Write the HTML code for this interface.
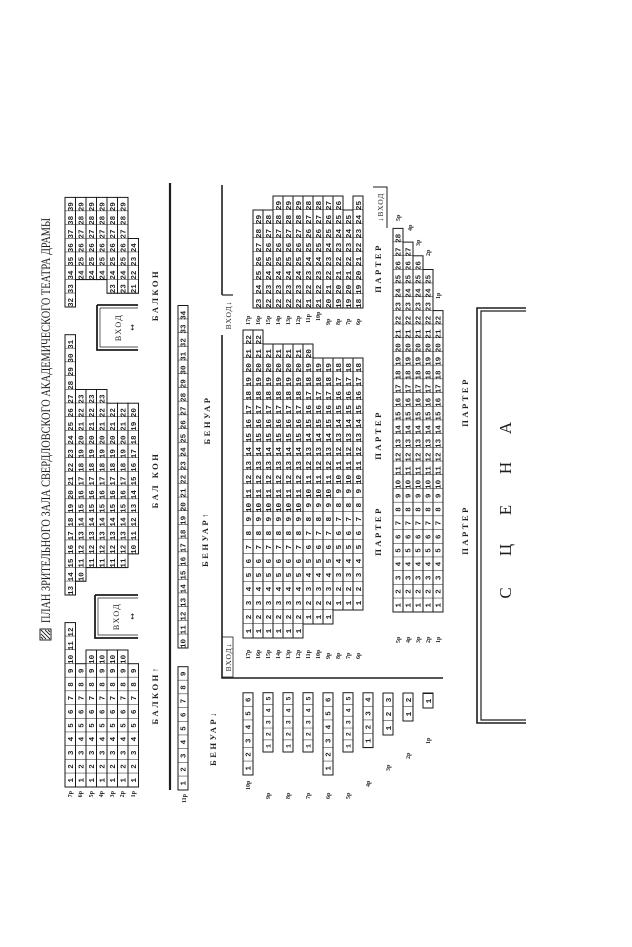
<!DOCTYPE html>
<html><head><meta charset="utf-8"><style>
html,body{margin:0;padding:0;background:#fff;}
svg{display:block}
text{white-space:pre;fill:#1e1e1e}
.n{font-family:"Liberation Mono",monospace;font-weight:bold}
.na{font-size:7.6px}
.nb{font-size:7.78px}
.nc{font-size:6.6px}
.lb{font-family:"Liberation Serif",serif;font-size:6px;font-weight:bold}
.hd{font-family:"Liberation Serif",serif;font-size:8.5px;font-weight:bold;letter-spacing:2.5px}
.r{fill:none;stroke:#1a1a1a;stroke-width:1}
</style></head><body>
<svg width="632" height="947" viewBox="0 0 632 947" xmlns="http://www.w3.org/2000/svg">
<defs>
<pattern id="a" width="13.7" height="20" patternUnits="userSpaceOnUse"><path d="M0 0V20" stroke="#1a1a1a" stroke-width="1"/></pattern>
<pattern id="b" width="14" height="20" patternUnits="userSpaceOnUse"><path d="M0 0V20" stroke="#1a1a1a" stroke-width="1"/></pattern>
<pattern id="c" width="11.86" height="20" patternUnits="userSpaceOnUse"><path d="M0 0V20" stroke="#1a1a1a" stroke-width="1"/></pattern>
</defs>
<g transform="translate(0 947) rotate(-90)">

<rect x="307" y="40" width="11" height="11" fill="#fff" stroke="#222" stroke-width="1"/>
<path d="M308 50L317 41M308 46L313 41M312 50L317 45M308 43L310 41M315 50L317 48" stroke="#222" stroke-width="0.9"/>
<text x="324" y="50" font-family="Liberation Serif,serif" font-size="13" textLength="405" lengthAdjust="spacingAndGlyphs">ПЛАН ЗРИТЕЛЬНОГО ЗАЛА СВЕРДЛОВСКОГО АКАДЕМИЧЕСКОГО ТЕАТРА ДРАМЫ</text>

<g transform="translate(160,65)"><rect width="164.4" height="10.5" fill="url(#a)"/><rect class="r" width="164.4" height="10.5"/><text class="n na" y="8"> 1  2  3  4  5  6  7  8  9 10 11 12 </text></g>
<g transform="translate(160,75.5)"><rect width="123.3" height="10.5" fill="url(#a)"/><rect class="r" width="123.3" height="10.5"/><text class="n na" y="8"> 1  2  3  4  5  6  7  8  9 </text></g>
<g transform="translate(160,86)"><rect width="137" height="10.5" fill="url(#a)"/><rect class="r" width="137" height="10.5"/><text class="n na" y="8"> 1  2  3  4  5  6  7  8  9 10 </text></g>
<g transform="translate(160,96.5)"><rect width="137" height="10.5" fill="url(#a)"/><rect class="r" width="137" height="10.5"/><text class="n na" y="8"> 1  2  3  4  5  6  7  8  9 10 </text></g>
<g transform="translate(160,107)"><rect width="137" height="10.5" fill="url(#a)"/><rect class="r" width="137" height="10.5"/><text class="n na" y="8"> 1  2  3  4  5  6  7  8  9 10 </text></g>
<g transform="translate(160,117.5)"><rect width="137" height="10.5" fill="url(#a)"/><rect class="r" width="137" height="10.5"/><text class="n na" y="8"> 1  2  3  4  5  6  7  8  9 10 </text></g>
<g transform="translate(160,128)"><rect width="123.3" height="10.5" fill="url(#a)"/><rect class="r" width="123.3" height="10.5"/><text class="n na" y="8"> 1  2  3  4  5  6  7  8  9 </text></g>
<text class="lb" x="156" y="72" text-anchor="end">7р</text>
<text class="lb" x="156" y="82" text-anchor="end">6р</text>
<text class="lb" x="156" y="93" text-anchor="end">5р</text>
<text class="lb" x="156" y="103" text-anchor="end">4р</text>
<text class="lb" x="156" y="114" text-anchor="end">3р</text>
<text class="lb" x="156" y="124" text-anchor="end">2р</text>
<text class="lb" x="156" y="135" text-anchor="end">1р</text>

<g transform="translate(352,65)"><rect width="260.3" height="10.5" fill="url(#a)"/><rect class="r" width="260.3" height="10.5"/><text class="n na" y="8">13 14 15 16 17 18 19 20 21 22 23 24 25 26 27 28 29 30 31 </text></g>
<g transform="translate(365.7,75.5)"><rect width="191.8" height="10.5" fill="url(#a)"/><rect class="r" width="191.8" height="10.5"/><text class="n na" y="8">10 11 12 13 14 15 16 17 18 19 20 21 22 23 </text></g>
<g transform="translate(379.4,86)"><rect width="178.1" height="10.5" fill="url(#a)"/><rect class="r" width="178.1" height="10.5"/><text class="n na" y="8">11 12 13 14 15 16 17 18 19 20 21 22 23 </text></g>
<g transform="translate(379.4,96.5)"><rect width="178.1" height="10.5" fill="url(#a)"/><rect class="r" width="178.1" height="10.5"/><text class="n na" y="8">11 12 13 14 15 16 17 18 19 20 21 22 23 </text></g>
<g transform="translate(379.4,107)"><rect width="164.4" height="10.5" fill="url(#a)"/><rect class="r" width="164.4" height="10.5"/><text class="n na" y="8">11 12 13 14 15 16 17 18 19 20 21 22 </text></g>
<g transform="translate(379.4,117.5)"><rect width="164.4" height="10.5" fill="url(#a)"/><rect class="r" width="164.4" height="10.5"/><text class="n na" y="8">11 12 13 14 15 16 17 18 19 20 21 22 </text></g>
<g transform="translate(393.1,128)"><rect width="150.7" height="10.5" fill="url(#a)"/><rect class="r" width="150.7" height="10.5"/><text class="n na" y="8">10 11 12 13 14 15 16 17 18 19 20 </text></g>

<g transform="translate(640,65)"><rect width="109.6" height="10.5" fill="url(#a)"/><rect class="r" width="109.6" height="10.5"/><text class="n na" y="8">32 33 34 35 36 37 38 39 </text></g>
<g transform="translate(667.4,75.5)"><rect width="82.2" height="10.5" fill="url(#a)"/><rect class="r" width="82.2" height="10.5"/><text class="n na" y="8">24 25 26 27 28 29 </text></g>
<g transform="translate(667.4,86)"><rect width="82.2" height="10.5" fill="url(#a)"/><rect class="r" width="82.2" height="10.5"/><text class="n na" y="8">24 25 26 27 28 29 </text></g>
<g transform="translate(667.4,96.5)"><rect width="82.2" height="10.5" fill="url(#a)"/><rect class="r" width="82.2" height="10.5"/><text class="n na" y="8">24 25 26 27 28 29 </text></g>
<g transform="translate(653.7,107)"><rect width="95.9" height="10.5" fill="url(#a)"/><rect class="r" width="95.9" height="10.5"/><text class="n na" y="8">23 24 25 26 27 28 29 </text></g>
<g transform="translate(653.7,117.5)"><rect width="95.9" height="10.5" fill="url(#a)"/><rect class="r" width="95.9" height="10.5"/><text class="n na" y="8">23 24 25 26 27 28 29 </text></g>
<g transform="translate(653.7,128)"><rect width="54.8" height="10.5" fill="url(#a)"/><rect class="r" width="54.8" height="10.5"/><text class="n na" y="8">21 22 23 24 </text></g>

<path d="M352 95H309V138M352 95V138" fill="none" stroke="#1e1e1e" stroke-width="1.8"/>
<path d="M349 98H312V138M349 98V138" fill="none" stroke="#1e1e1e" stroke-width="0.7"/>
<text x="330.5" y="119" text-anchor="middle" font-family="Liberation Serif,serif" font-size="8" letter-spacing="1.5">ВХОД</text>
<text x="330.5" y="135" text-anchor="middle" font-family="DejaVu Sans,sans-serif" font-size="8">↔</text>
<path d="M642 97H597V138M642 97V138" fill="none" stroke="#1e1e1e" stroke-width="1.8"/>
<path d="M639 100H600V138M639 100V138" fill="none" stroke="#1e1e1e" stroke-width="0.7"/>
<text x="619.5" y="121" text-anchor="middle" font-family="Liberation Serif,serif" font-size="8" letter-spacing="1.5">ВХОД</text>
<text x="619.5" y="135" text-anchor="middle" font-family="DejaVu Sans,sans-serif" font-size="8">↔</text>

<text class="hd" x="252" y="158" text-anchor="middle">БАЛКОН↑</text>
<text class="hd" x="467" y="158" text-anchor="middle" letter-spacing="4">БАЛ КОН</text>
<text class="hd" x="652" y="158" text-anchor="middle">БАЛКОН</text>

<path d="M157 170H764" stroke="#1e1e1e" stroke-width="2.2"/>

<g transform="translate(157,178)"><rect width="123.3" height="10" fill="url(#a)"/><rect class="r" width="123.3" height="10"/><text class="n na" y="7.7"> 1  2  3  4  5  6  7  8  9 </text></g>
<g transform="translate(299,178)"><rect width="342.5" height="10" fill="url(#a)"/><rect class="r" width="342.5" height="10"/><text class="n na" y="7.7">10 11 12 13 14 15 16 17 18 19 20 21 22 23 24 25 26 27 28 29 30 31 32 33 34 </text></g>
<text class="lb" x="153" y="186" text-anchor="end">11р</text>
<text class="hd" x="408" y="208" text-anchor="middle">БЕНУАР↑</text>
<text class="hd" x="527" y="210" text-anchor="middle">БЕНУАР</text>
<text class="hd" x="209" y="216" text-anchor="middle">БЕНУАР↓</text>

<path d="M269 443V222H612" fill="none" stroke="#1e1e1e" stroke-width="1.6"/>
<path d="M652 222H762" fill="none" stroke="#1e1e1e" stroke-width="1.6"/>
<path d="M652 222V233" stroke="#1e1e1e" stroke-width="1.2"/>
<text x="632" y="231" text-anchor="middle" font-family="Liberation Serif,serif" font-size="7.5" letter-spacing="1">ВХОД↓</text>
<rect x="270" y="222" width="40" height="11" fill="none" stroke="#1e1e1e" stroke-width="0.8"/>
<text x="290" y="231" text-anchor="middle" font-family="Liberation Serif,serif" font-size="7.5" letter-spacing="1">ВХОД↓</text>
<path d="M719 387H760V373" fill="none" stroke="#1e1e1e" stroke-width="1"/>
<text x="740" y="383" text-anchor="middle" font-family="Liberation Serif,serif" font-size="7.5" letter-spacing="1">↓ВХОД</text>

<g transform="translate(309,243)"><rect width="308" height="10" fill="url(#b)"/><rect class="r" width="308" height="10"/><text class="n nb" y="7.8"> 1  2  3  4  5  6  7  8  9 10 11 12 13 14 15 16 17 18 19 20 21 22 </text></g>
<g transform="translate(309,253)"><rect width="308" height="10" fill="url(#b)"/><rect class="r" width="308" height="10"/><text class="n nb" y="7.8"> 1  2  3  4  5  6  7  8  9 10 11 12 13 14 15 16 17 18 19 20 21 22 </text></g>
<g transform="translate(309,263)"><rect width="294" height="10" fill="url(#b)"/><rect class="r" width="294" height="10"/><text class="n nb" y="7.8"> 1  2  3  4  5  6  7  8  9 10 11 12 13 14 15 16 17 18 19 20 21 </text></g>
<g transform="translate(309,273)"><rect width="294" height="10" fill="url(#b)"/><rect class="r" width="294" height="10"/><text class="n nb" y="7.8"> 1  2  3  4  5  6  7  8  9 10 11 12 13 14 15 16 17 18 19 20 21 </text></g>
<g transform="translate(309,283)"><rect width="294" height="10" fill="url(#b)"/><rect class="r" width="294" height="10"/><text class="n nb" y="7.8"> 1  2  3  4  5  6  7  8  9 10 11 12 13 14 15 16 17 18 19 20 21 </text></g>
<g transform="translate(309,293)"><rect width="294" height="10" fill="url(#b)"/><rect class="r" width="294" height="10"/><text class="n nb" y="7.8"> 1  2  3  4  5  6  7  8  9 10 11 12 13 14 15 16 17 18 19 20 21 </text></g>
<g transform="translate(323,303)"><rect width="280" height="10" fill="url(#b)"/><rect class="r" width="280" height="10"/><text class="n nb" y="7.8"> 1  2  3  4  5  6  7  8  9 10 11 12 13 14 15 16 17 18 19 20 </text></g>
<g transform="translate(323,313)"><rect width="266" height="10" fill="url(#b)"/><rect class="r" width="266" height="10"/><text class="n nb" y="7.8"> 1  2  3  4  5  6  7  8  9 10 11 12 13 14 15 16 17 18 19 </text></g>
<g transform="translate(323,323)"><rect width="266" height="10" fill="url(#b)"/><rect class="r" width="266" height="10"/><text class="n nb" y="7.8"> 1  2  3  4  5  6  7  8  9 10 11 12 13 14 15 16 17 18 19 </text></g>
<g transform="translate(337,333)"><rect width="252" height="10" fill="url(#b)"/><rect class="r" width="252" height="10"/><text class="n nb" y="7.8"> 1  2  3  4  5  6  7  8  9 10 11 12 13 14 15 16 17 18 </text></g>
<g transform="translate(337,343)"><rect width="252" height="10" fill="url(#b)"/><rect class="r" width="252" height="10"/><text class="n nb" y="7.8"> 1  2  3  4  5  6  7  8  9 10 11 12 13 14 15 16 17 18 </text></g>
<g transform="translate(337,353)"><rect width="252" height="10" fill="url(#b)"/><rect class="r" width="252" height="10"/><text class="n nb" y="7.8"> 1  2  3  4  5  6  7  8  9 10 11 12 13 14 15 16 17 18 </text></g>
<text class="lb" x="288" y="250">17р</text><text class="lb" x="288" y="260">16р</text><text class="lb" x="288" y="270">15р</text><text class="lb" x="288" y="280">14р</text><text class="lb" x="288" y="290">13р</text><text class="lb" x="288" y="300">12р</text><text class="lb" x="288" y="310">11р</text><text class="lb" x="288" y="320">10р</text><text class="lb" x="288" y="330">9р</text><text class="lb" x="288" y="340">8р</text><text class="lb" x="288" y="350">7р</text><text class="lb" x="288" y="360">6р</text>
<text class="lb" x="622" y="250">17р</text><text class="lb" x="622" y="260">16р</text><text class="lb" x="622" y="270">15р</text><text class="lb" x="622" y="280">14р</text><text class="lb" x="622" y="290">13р</text><text class="lb" x="622" y="300">12р</text><text class="lb" x="624" y="310">11р</text><text class="lb" x="626" y="320">10р</text><text class="lb" x="622" y="330">9р</text><text class="lb" x="622" y="340">8р</text><text class="lb" x="622" y="350">7р</text><text class="lb" x="622" y="360">6р</text>

<g transform="translate(639,253)"><rect width="98" height="10" fill="url(#b)"/><rect class="r" width="98" height="10"/><text class="n nb" y="7.8">23 24 25 26 27 28 29 </text></g>
<g transform="translate(639,263)"><rect width="98" height="10" fill="url(#b)"/><rect class="r" width="98" height="10"/><text class="n nb" y="7.8">22 23 24 25 26 27 28 </text></g>
<g transform="translate(639,273)"><rect width="112" height="10" fill="url(#b)"/><rect class="r" width="112" height="10"/><text class="n nb" y="7.8">22 23 24 25 26 27 28 29 </text></g>
<g transform="translate(639,283)"><rect width="112" height="10" fill="url(#b)"/><rect class="r" width="112" height="10"/><text class="n nb" y="7.8">22 23 24 25 26 27 28 29 </text></g>
<g transform="translate(639,293)"><rect width="112" height="10" fill="url(#b)"/><rect class="r" width="112" height="10"/><text class="n nb" y="7.8">22 23 24 25 26 27 28 29 </text></g>
<g transform="translate(639,303)"><rect width="112" height="10" fill="url(#b)"/><rect class="r" width="112" height="10"/><text class="n nb" y="7.8">21 22 23 24 25 26 27 28 </text></g>
<g transform="translate(639,313)"><rect width="112" height="10" fill="url(#b)"/><rect class="r" width="112" height="10"/><text class="n nb" y="7.8">21 22 23 24 25 26 27 28 </text></g>
<g transform="translate(639,323)"><rect width="112" height="10" fill="url(#b)"/><rect class="r" width="112" height="10"/><text class="n nb" y="7.8">20 21 22 23 24 25 26 27 </text></g>
<g transform="translate(639,333)"><rect width="112" height="10" fill="url(#b)"/><rect class="r" width="112" height="10"/><text class="n nb" y="7.8">19 20 21 22 23 24 25 26 </text></g>
<g transform="translate(639,343)"><rect width="98" height="10" fill="url(#b)"/><rect class="r" width="98" height="10"/><text class="n nb" y="7.8">19 20 21 22 23 24 25 </text></g>
<g transform="translate(639,353)"><rect width="112" height="10" fill="url(#b)"/><rect class="r" width="112" height="10"/><text class="n nb" y="7.8">18 19 20 21 22 23 24 25 </text></g>

<g transform="translate(335,393)"><rect width="383.6" height="10" fill="url(#a)"/><rect class="r" width="383.6" height="10"/><text class="n na" y="7.7"> 1  2  3  4  5  6  7  8  9 10 11 12 13 14 15 16 17 18 19 20 21 22 23 24 25 26 27 28 </text></g>
<g transform="translate(335,403)"><rect width="369.9" height="10" fill="url(#a)"/><rect class="r" width="369.9" height="10"/><text class="n na" y="7.7"> 1  2  3  4  5  6  7  8  9 10 11 12 13 14 15 16 17 18 19 20 21 22 23 24 25 26 27 </text></g>
<g transform="translate(335,413)"><rect width="356.2" height="10" fill="url(#a)"/><rect class="r" width="356.2" height="10"/><text class="n na" y="7.7"> 1  2  3  4  5  6  7  8  9 10 11 12 13 14 15 16 17 18 19 20 21 22 23 24 25 26 </text></g>
<g transform="translate(335,423)"><rect width="342.5" height="10" fill="url(#a)"/><rect class="r" width="342.5" height="10"/><text class="n na" y="7.7"> 1  2  3  4  5  6  7  8  9 10 11 12 13 14 15 16 17 18 19 20 21 22 23 24 25 </text></g>
<g transform="translate(335,433)"><rect width="301.4" height="10" fill="url(#a)"/><rect class="r" width="301.4" height="10"/><text class="n na" y="7.7"> 1  2  3  4  5  6  7  8  9 10 11 12 13 14 15 16 17 18 19 20 21 22 </text></g>
<text class="lb" x="304" y="400">5р</text><text class="lb" x="304" y="410">4р</text><text class="lb" x="304" y="420">3р</text><text class="lb" x="304" y="430">2р</text><text class="lb" x="304" y="440">1р</text>
<text class="lb" x="726" y="400">5р</text><text class="lb" x="716" y="412">4р</text><text class="lb" x="701" y="420">3р</text><text class="lb" x="691" y="430">2р</text><text class="lb" x="648" y="440">1р</text>

<g transform="translate(172,243)"><rect width="82.2" height="10" fill="url(#a)"/><rect class="r" width="82.2" height="10" stroke-width="1.3"/><text class="n na" y="7.7"> 1  2  3  4  5  6 </text></g>
<g transform="translate(195,263)"><rect width="59.3" height="10" fill="url(#c)"/><rect class="r" width="59.3" height="10" stroke-width="1.3"/><text class="n nc" y="7.5"> 1  2  3  4  5 </text></g>
<g transform="translate(195,283)"><rect width="59.3" height="10" fill="url(#c)"/><rect class="r" width="59.3" height="10" stroke-width="1.3"/><text class="n nc" y="7.5"> 1  2  3  4  5 </text></g>
<g transform="translate(195,303)"><rect width="59.3" height="10" fill="url(#c)"/><rect class="r" width="59.3" height="10" stroke-width="1.3"/><text class="n nc" y="7.5"> 1  2  3  4  5 </text></g>
<g transform="translate(172,323)"><rect width="82.2" height="10" fill="url(#a)"/><rect class="r" width="82.2" height="10" stroke-width="1.3"/><text class="n na" y="7.7"> 1  2  3  4  5  6 </text></g>
<g transform="translate(195,343)"><rect width="59.3" height="10" fill="url(#c)"/><rect class="r" width="59.3" height="10" stroke-width="1.3"/><text class="n nc" y="7.5"> 1  2  3  4  5 </text></g>
<g transform="translate(199.4,363)"><rect width="54.8" height="10" fill="url(#a)"/><rect class="r" width="54.8" height="10" stroke-width="1.3"/><text class="n na" y="7.7"> 1  2  3  4 </text></g>
<g transform="translate(212,383)"><rect width="42" height="10" fill="url(#b)"/><rect class="r" width="42" height="10" stroke-width="1.3"/><text class="n nb" y="7.8"> 1  2  3 </text></g>
<g transform="translate(226,403)"><rect width="28" height="10" fill="url(#b)"/><rect class="r" width="28" height="10" stroke-width="1.3"/><text class="n nb" y="7.8"> 1  2 </text></g>
<g transform="translate(239,423)"><rect width="15" height="10" fill="url(#b)"/><rect class="r" width="15" height="10" stroke-width="1.3"/><text class="n nb" y="7.8"> 1 </text></g>
<text class="lb" x="157" y="250">10р</text><text class="lb" x="148" y="270">9р</text><text class="lb" x="148" y="290">8р</text><text class="lb" x="148" y="310">7р</text><text class="lb" x="148" y="330">6р</text><text class="lb" x="148" y="350">5р</text><text class="lb" x="160" y="370">4р</text><text class="lb" x="176" y="390">3р</text><text class="lb" x="188" y="410">2р</text><text class="lb" x="203" y="430">1р</text>

<text class="hd" x="512" y="381" text-anchor="middle">ПАРТЕР</text>
<text class="hd" x="679" y="381" text-anchor="middle">ПАРТЕР</text>
<text class="hd" x="416" y="381" text-anchor="middle">ПАРТЕР</text>
<text class="hd" x="545" y="468" text-anchor="middle">ПАРТЕР</text>
<text class="hd" x="417" y="468" text-anchor="middle">ПАРТЕР</text>

<path d="M224 526V477H639V526" fill="none" stroke="#1e1e1e" stroke-width="1.6"/>
<path d="M227 526V481H636V526" fill="none" stroke="#1e1e1e" stroke-width="1.2"/>
<g font-family="Liberation Serif,serif" font-size="17" text-anchor="middle">
<text x="354" y="511">С</text><text x="397" y="511">Ц</text><text x="437" y="511">Е</text><text x="479" y="511">Н</text><text x="519" y="511">А</text>
</g>
</g>
</svg>
</body></html>
